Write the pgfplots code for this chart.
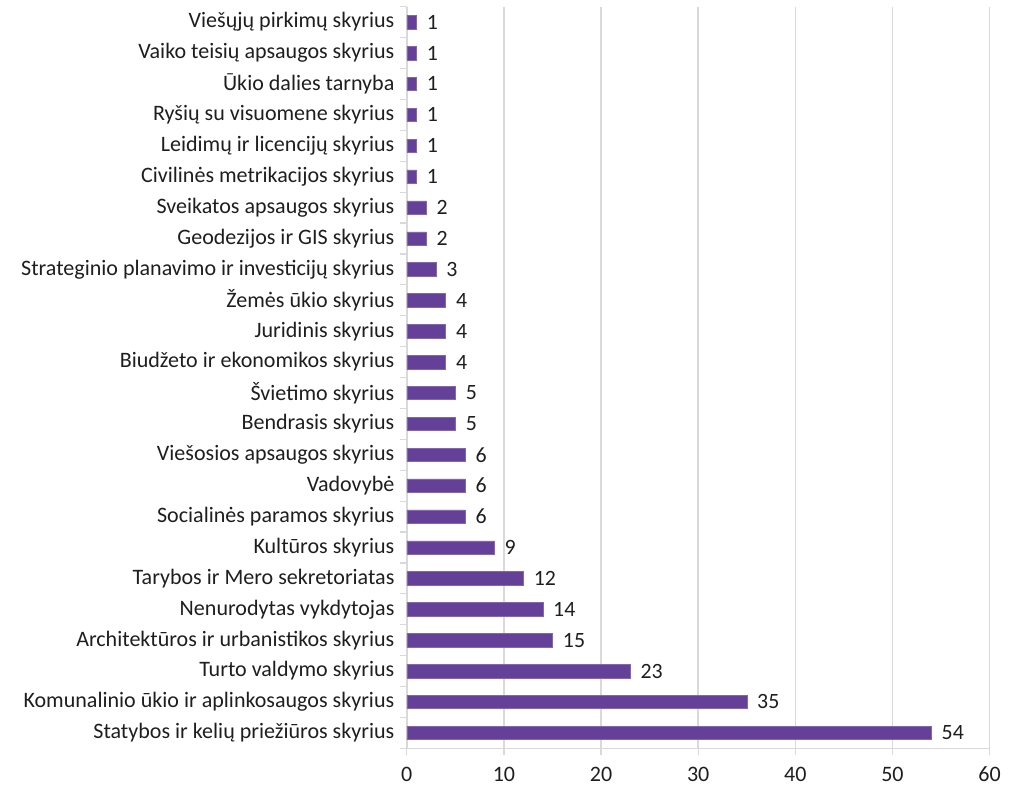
\documentclass[border={18pt 4pt 6pt 6pt}]{standalone}
\usepackage{pgfplots}
\pgfplotsset{compat=1.18}
\usepackage{fontspec}
\setmainfont{Carlito}
\definecolor{barpurple}{RGB}{100,64,152}
\definecolor{txt}{RGB}{30,30,30}
\definecolor{gridc}{RGB}{217,217,217}
\begin{document}
\begin{tikzpicture}
\begin{axis}[
  scale only axis,
  width=587pt, height=747pt,
  xbar, bar width=13.5pt,
  xmin=0, xmax=60,
  ymin=-0.5, ymax=23.5,
  y dir=reverse,
  axis lines*=left,
  axis line style={gridc, line width=1.2pt},
  xtick={0,10,...,60},
  xmajorgrids, grid style={gridc, line width=1.5pt},
  ytick={0,...,23},
  yticklabels={Viešųjų pirkimų skyrius,Vaiko teisių apsaugos skyrius,Ūkio dalies tarnyba,Ryšių su visuomene skyrius,Leidimų ir licencijų skyrius,Civilinės metrikacijos skyrius,Sveikatos apsaugos skyrius,Geodezijos ir GIS skyrius,Strateginio planavimo ir investicijų skyrius,Žemės ūkio skyrius,Juridinis skyrius,Biudžeto ir ekonomikos skyrius,Švietimo skyrius,Bendrasis skyrius,Viešosios apsaugos skyrius,Vadovybė,Socialinės paramos skyrius,Kultūros skyrius,Tarybos ir Mero sekretoriatas,Nenurodytas vykdytojas,Architektūros ir urbanistikos skyrius,Turto valdymo skyrius,Komunalinio ūkio ir aplinkosaugos skyrius,Statybos ir kelių priežiūros skyrius},
  major y tick style={draw=none},
  minor ytick={-0.5,0.5,...,23.5},
  minor y tick style={gridc, line width=1.2pt},
  minor tick length=7pt,
  major x tick style={gridc, line width=1.2pt},
  major tick length=7pt,
  tick align=outside,
  ticklabel style={font=\fontsize{22.2}{26}\selectfont, text=txt},
  yticklabel style={xshift=-2pt},
  xticklabel style={yshift=-8pt},
  /pgf/number format/assume math mode=true,
  nodes near coords,
  nodes near coords style={font=\fontsize{22}{26}\selectfont, text=txt, anchor=west, xshift=7pt},
  clip=false,
]
\addplot[fill=barpurple, draw=barpurple!80] coordinates {
(1,0) (1,1) (1,2) (1,3) (1,4) (1,5) (2,6) (2,7) (3,8) (4,9) (4,10) (4,11)
(5,12) (5,13) (6,14) (6,15) (6,16) (9,17) (12,18) (14,19) (15,20) (23,21) (35,22) (54,23)
};
\end{axis}
\end{tikzpicture}
\end{document}
